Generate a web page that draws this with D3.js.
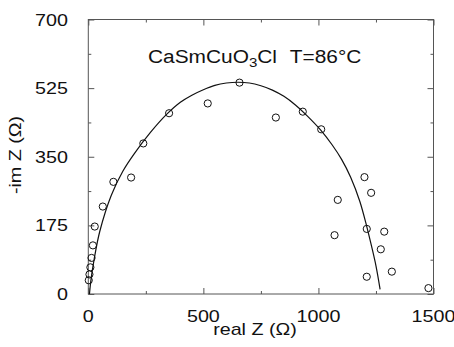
<!DOCTYPE html>
<html><head><meta charset="utf-8">
<script src="https://cdn.jsdelivr.net/npm/d3@7"></script>
<style>body{margin:0;background:#fff}svg{display:block}text{font-family:"Liberation Sans",Arial,sans-serif;fill:#111}</style>
</head><body><svg id="c" width="454" height="347"></svg>
<script>
// measured points (real Z, -im Z) in ohm
const realZ = [2, 5, 9, 14, 20, 28, 63, 109, 186, 239, 351, 519, 657, 815, 932, 1012, 1200, 1229, 1084, 1210, 1286, 1070, 1271, 1319, 1210, 1478];
const imZ   = [35, 50, 68, 92, 124, 172, 223, 286, 297, 384, 461, 486, 539, 450, 465, 420, 298, 258, 240, 166, 159, 150, 114, 57, 44, 15];
// fitted arc
const fitX = [5, 12, 25, 50, 100, 150, 200, 270, 340, 400, 450, 500, 550, 600, 650, 700, 750, 800, 850, 900, 950, 1010, 1060, 1100, 1140, 1180, 1210, 1230, 1250, 1268];
const fitY = [0, 38, 87, 160, 252, 313, 358, 412, 458, 489, 507, 521, 532, 538, 540, 538, 531, 520, 504, 482, 455, 418, 380, 344, 298, 236, 172, 124, 72, 12];
const xMajor = [0, 500, 1000, 1500];
const xMinor = [250, 750, 1250];
const yMajor = [0, 175, 350, 525, 700];
const yMinor = [87.5, 262.5, 437.5, 612.5];
const xTitle = "real Z (\u03A9)";
const yTitle = "-im Z (\u03A9)";

const svg = d3.select("#c");
const L = 88.3, R = 433.5, T = 19.5, B = 294;
const x = d3.scaleLinear().domain([0, 1500]).range([L, R]);
const y = d3.scaleLinear().domain([0, 700]).range([B, T]);
const SX = 1.16, FS = 17;

const axisCol = "#555";
function ticks(axisFn, scale, vals, size, tr) {
  const g = svg.append("g").attr("transform", tr)
    .call(axisFn(scale).tickValues(vals).tickSize(size).tickFormat(""));
  g.select(".domain").remove();
  g.selectAll(".tick line").attr("stroke", axisCol).attr("stroke-width", 1);
}
ticks(d3.axisLeft, y, yMajor, -6, `translate(${L},0)`);
ticks(d3.axisLeft, y, yMinor, -3, `translate(${L},0)`);
ticks(d3.axisRight, y, yMajor, -6, `translate(${R},0)`);
ticks(d3.axisRight, y, yMinor, -3, `translate(${R},0)`);
ticks(d3.axisBottom, x, xMajor, -6, `translate(0,${B})`);
ticks(d3.axisBottom, x, xMinor, -3, `translate(0,${B})`);
ticks(d3.axisTop, x, xMajor, -6, `translate(0,${T})`);
ticks(d3.axisTop, x, xMinor, -3, `translate(0,${T})`);

svg.append("rect").attr("x", L).attr("y", T).attr("width", R - L).attr("height", B - T)
  .attr("fill", "none").attr("stroke", axisCol).attr("stroke-width", 1);

// tick labels
svg.selectAll(".yl").data(yMajor).enter().append("text")
  .attr("text-anchor", "end").attr("font-size", FS)
  .attr("transform", d => `translate(68,${y(d) + 6}) scale(${SX},1)`)
  .text(d => d);
svg.selectAll(".xl").data(xMajor).enter().append("text")
  .attr("text-anchor", "middle").attr("font-size", FS)
  .attr("transform", d => `translate(${x(d)},322) scale(${SX},1)`)
  .text(d => d);

// axis titles
svg.append("text").attr("text-anchor", "middle").attr("font-size", FS)
  .attr("transform", `translate(255,335) scale(${SX},1)`).text(xTitle);
svg.append("text").attr("text-anchor", "middle").attr("font-size", FS)
  .attr("transform", `translate(21,155) rotate(-90) scale(${SX},1)`).text(yTitle);

// title
const t = svg.append("text").attr("font-size", 18)
  .attr("transform", `translate(148,63) scale(${SX},1)`);
t.append("tspan").text("CaSmCuO");
t.append("tspan").attr("font-size", 13).attr("dy", 4).text("3");
t.append("tspan").attr("dy", -4).text("Cl");
t.append("tspan").attr("dx", 11).text("T=86\u00B0C");

// fit line
const fit = fitX.map((v, i) => [v, fitY[i]]);
svg.append("path").datum(fit)
  .attr("d", d3.line().x(d => x(d[0])).y(d => y(d[1])).curve(d3.curveCatmullRom))
  .attr("fill", "none").attr("stroke", "#111").attr("stroke-width", 1.2);

// points
svg.selectAll(".pt").data(realZ.map((v, i) => [v, imZ[i]])).enter().append("circle")
  .attr("cx", d => x(d[0])).attr("cy", d => y(d[1])).attr("r", 3.6)
  .attr("fill", "none").attr("stroke", "#111").attr("stroke-width", 1);
</script></body></html>
